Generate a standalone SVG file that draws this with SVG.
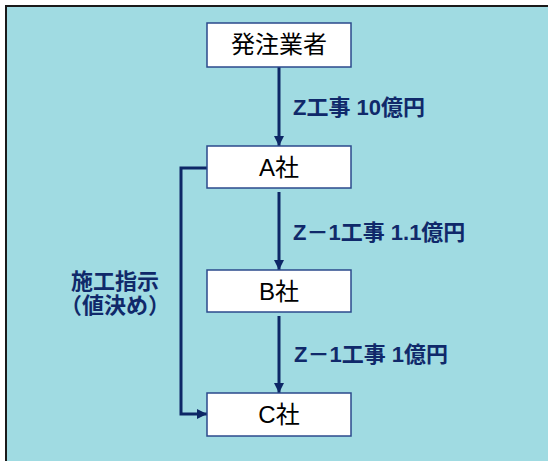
<svg xmlns="http://www.w3.org/2000/svg" width="548" height="461" viewBox="0 0 548 461">
<style>
.box{fill:#ffffff;stroke:#2b4a8c;stroke-width:1.5}
.nt{font-family:"Liberation Sans","Noto Sans CJK JP",sans-serif;font-size:24px;fill:#000;text-anchor:middle}
.lb{font-family:"Liberation Sans","Noto Sans CJK JP",sans-serif;font-size:22px;font-weight:bold;fill:#10296a}
.ln{fill:none;stroke:#0d2766;stroke-width:3}
</style>
<defs>
<marker id="ah" viewBox="0 0 10 10" refX="10" refY="5" markerWidth="10" markerHeight="10" markerUnits="userSpaceOnUse" orient="auto">
<path d="M0,0 L10,5 L0,10 Z" fill="#0d2766"/>
</marker>
</defs>
<rect x="6" y="6" width="560" height="480" fill="#a0dbe2" stroke="#1a1a1a" stroke-width="2"/>
<g id="connectors">
<line class="ln" x1="279" y1="67" x2="279" y2="146" marker-end="url(#ah)"/>
<line class="ln" x1="279" y1="192" x2="279" y2="270" marker-end="url(#ah)"/>
<line class="ln" x1="279" y1="316" x2="279" y2="393" marker-end="url(#ah)"/>
<polyline class="ln" points="207,168 181,168 181,414 207,414" marker-end="url(#ah)"/>
<text class="lb" x="293" y="115">Z工事 10億円</text>
<text class="lb" x="293" y="240">Z－1工事 1.1億円</text>
<text class="lb" x="294" y="362">Z－1工事 1億円</text>
<text class="lb" x="115" y="289" text-anchor="middle">施工指示</text>
<text class="lb" x="115" y="313" text-anchor="middle">（値決め）</text>
</g>
<g id="hacchu">
<rect class="box" x="207" y="23" width="144" height="44"/>
<text class="nt" x="279" y="53">発注業者</text>
</g>
<g id="a">
<rect class="box" x="207" y="146" width="144" height="42"/>
<text class="nt" x="279" y="176">A社</text>
</g>
<g id="b">
<rect class="box" x="207" y="270" width="144" height="42"/>
<text class="nt" x="279" y="300">B社</text>
</g>
<g id="c">
<rect class="box" x="207" y="393" width="144" height="43"/>
<text class="nt" x="279" y="423">C社</text>
</g>
</svg>
